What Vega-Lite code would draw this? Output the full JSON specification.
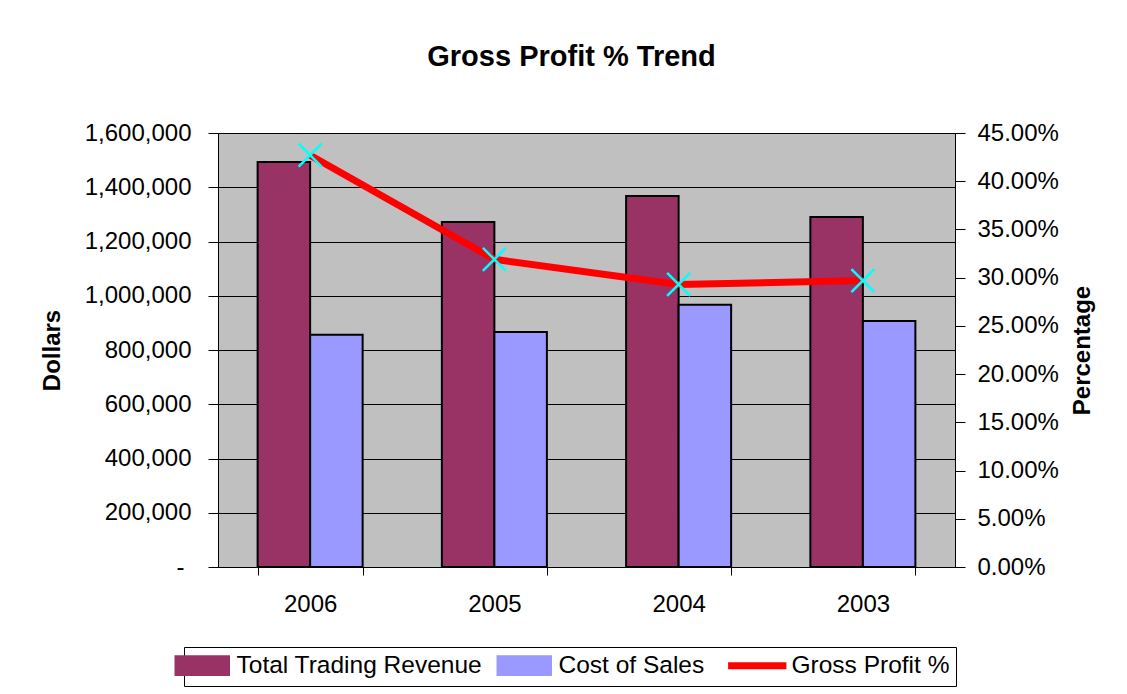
{
  "$schema": "https://vega.github.io/schema/vega-lite/v6.json",
  "autosize": "none",
  "width": 737,
  "height": 434,
  "padding": {"left": 218, "top": 133, "right": 172, "bottom": 127},
  "background": "white",
  "title": {"text": "Gross Profit % Trend", "fontSize": 29, "font": "Liberation Sans", "fontWeight": "bold", "color": "black", "anchor": "middle", "dx": -15, "offset": 49},
  "datasets": {
    "bars": [
      {"year": "2006", "series": "Total Trading Revenue", "value": 1493000},
      {"year": "2006", "series": "Cost of Sales", "value": 856000},
      {"year": "2005", "series": "Total Trading Revenue", "value": 1272000},
      {"year": "2005", "series": "Cost of Sales", "value": 866000},
      {"year": "2004", "series": "Total Trading Revenue", "value": 1368000},
      {"year": "2004", "series": "Cost of Sales", "value": 967000},
      {"year": "2003", "series": "Total Trading Revenue", "value": 1290000},
      {"year": "2003", "series": "Cost of Sales", "value": 907000}
    ],
    "gp": [
      {"year": "2006", "series": "Gross Profit %", "pct": 0.427},
      {"year": "2005", "series": "Gross Profit %", "pct": 0.319},
      {"year": "2004", "series": "Gross Profit %", "pct": 0.293},
      {"year": "2003", "series": "Gross Profit %", "pct": 0.297}
    ]
  },
  "config": {
    "font": "Liberation Sans",
    "view": {"fill": "#C0C0C0", "stroke": "#808080", "strokeWidth": 1},
    "axis": {"labelFont": "Liberation Sans", "titleFont": "Liberation Sans", "labelColor": "black", "titleColor": "black", "domainColor": "black", "tickColor": "black", "labelFontSize": 24, "titleFontSize": 24, "titleFontWeight": "bold", "labelOverlap": false}
  },
  "layer": [
    {
      "data": {"name": "bars"},
      "mark": {"type": "bar", "stroke": "black", "strokeWidth": 2},
      "encoding": {
        "x": {"field": "year", "type": "nominal", "sort": ["2006", "2005", "2004", "2003"],
          "scale": {"paddingInner": 0.43, "paddingOuter": 0.215},
          "axis": {"title": null, "labelAngle": 0, "tickBand": "extent", "tickSize": 8, "labelPadding": 17, "grid": false, "domainColor": "black"}},
        "xOffset": {"field": "series", "type": "nominal", "sort": ["Total Trading Revenue", "Cost of Sales"], "scale": {"paddingInner": 0, "paddingOuter": 0}},
        "y": {"field": "value", "type": "quantitative",
          "scale": {"domain": [0, 1600000], "nice": false},
          "axis": {"title": "Dollars", "values": [0, 200000, 400000, 600000, 800000, 1000000, 1200000, 1400000, 1600000], "format": ",.0f", "tickSize": 10,
            "labelPadding": {"condition": {"test": "datum.value === 0", "value": 24}, "value": 17},
            "titlePadding": 20, "grid": true, "gridColor": "black", "gridWidth": 1,
            "labelExpr": "datum.value === 0 ? '-' : datum.label"}},
        "color": {"field": "series", "type": "nominal",
          "scale": {"domain": ["Total Trading Revenue", "Cost of Sales", "Gross Profit %"], "range": ["#993366", "#9999FF", "#FF0000"]},
          "legend": {"title": null, "orient": "none", "direction": "horizontal", "legendX": -34, "legendY": 514,
            "strokeColor": "black", "fillColor": "white", "padding": 6,
            "labelFontSize": 24.5, "labelFont": "Liberation Sans", "labelColor": "black", "labelLimit": 400,
            "symbolSize": 2809, "symbolType": "M-1,-0.34H1V0.34H-1Z", "symbolStrokeColor": "black", "symbolStrokeWidth": 2.5, "symbolOpacity": 1,
            "columnPadding": 9, "labelOffset": 22,
            "encode": {"symbols": {"update": {
              "shape": {"signal": "datum.value === 'Gross Profit %' ? 'M-1.1,0H1.1' : 'M-1,-0.34H1V0.34H-1Z'"},
              "stroke": {"signal": "datum.value === 'Gross Profit %' ? '#FF0000' : '#000000'"},
              "strokeWidth": {"signal": "datum.value === 'Gross Profit %' ? 7 : 2.5"},
              "strokeOpacity": {"value": 1}
            }}}}}
      }
    },
    {
      "data": {"name": "gp"},
      "mark": {"type": "line", "strokeWidth": 7, "strokeCap": "butt", "strokeJoin": "round"},
      "encoding": {
        "x": {"field": "year", "type": "nominal", "sort": ["2006", "2005", "2004", "2003"]},
        "y": {"field": "pct", "type": "quantitative",
          "scale": {"domain": [0, 0.45], "nice": false},
          "axis": {"title": "Percentage", "orient": "right", "values": [0, 0.05, 0.1, 0.15, 0.2, 0.25, 0.3, 0.35, 0.4, 0.45], "format": ".2%", "tickSize": 10, "labelPadding": 12, "titlePadding": 12, "titleAngle": 270, "titleBaseline": "top", "grid": false}},
        "color": {"field": "series", "type": "nominal"}
      }
    },
    {
      "data": {"name": "gp"},
      "mark": {"type": "point", "shape": "M-1,-1L1,1M1,-1L-1,1", "filled": false, "stroke": "#00FFFF", "strokeWidth": 2.5, "size": 529, "opacity": 1},
      "encoding": {
        "x": {"field": "year", "type": "nominal", "sort": ["2006", "2005", "2004", "2003"]},
        "y": {"field": "pct", "type": "quantitative", "scale": {"domain": [0, 0.45], "nice": false}, "axis": null}
      }
    }
  ],
  "resolve": {"scale": {"y": "independent"}}
}
